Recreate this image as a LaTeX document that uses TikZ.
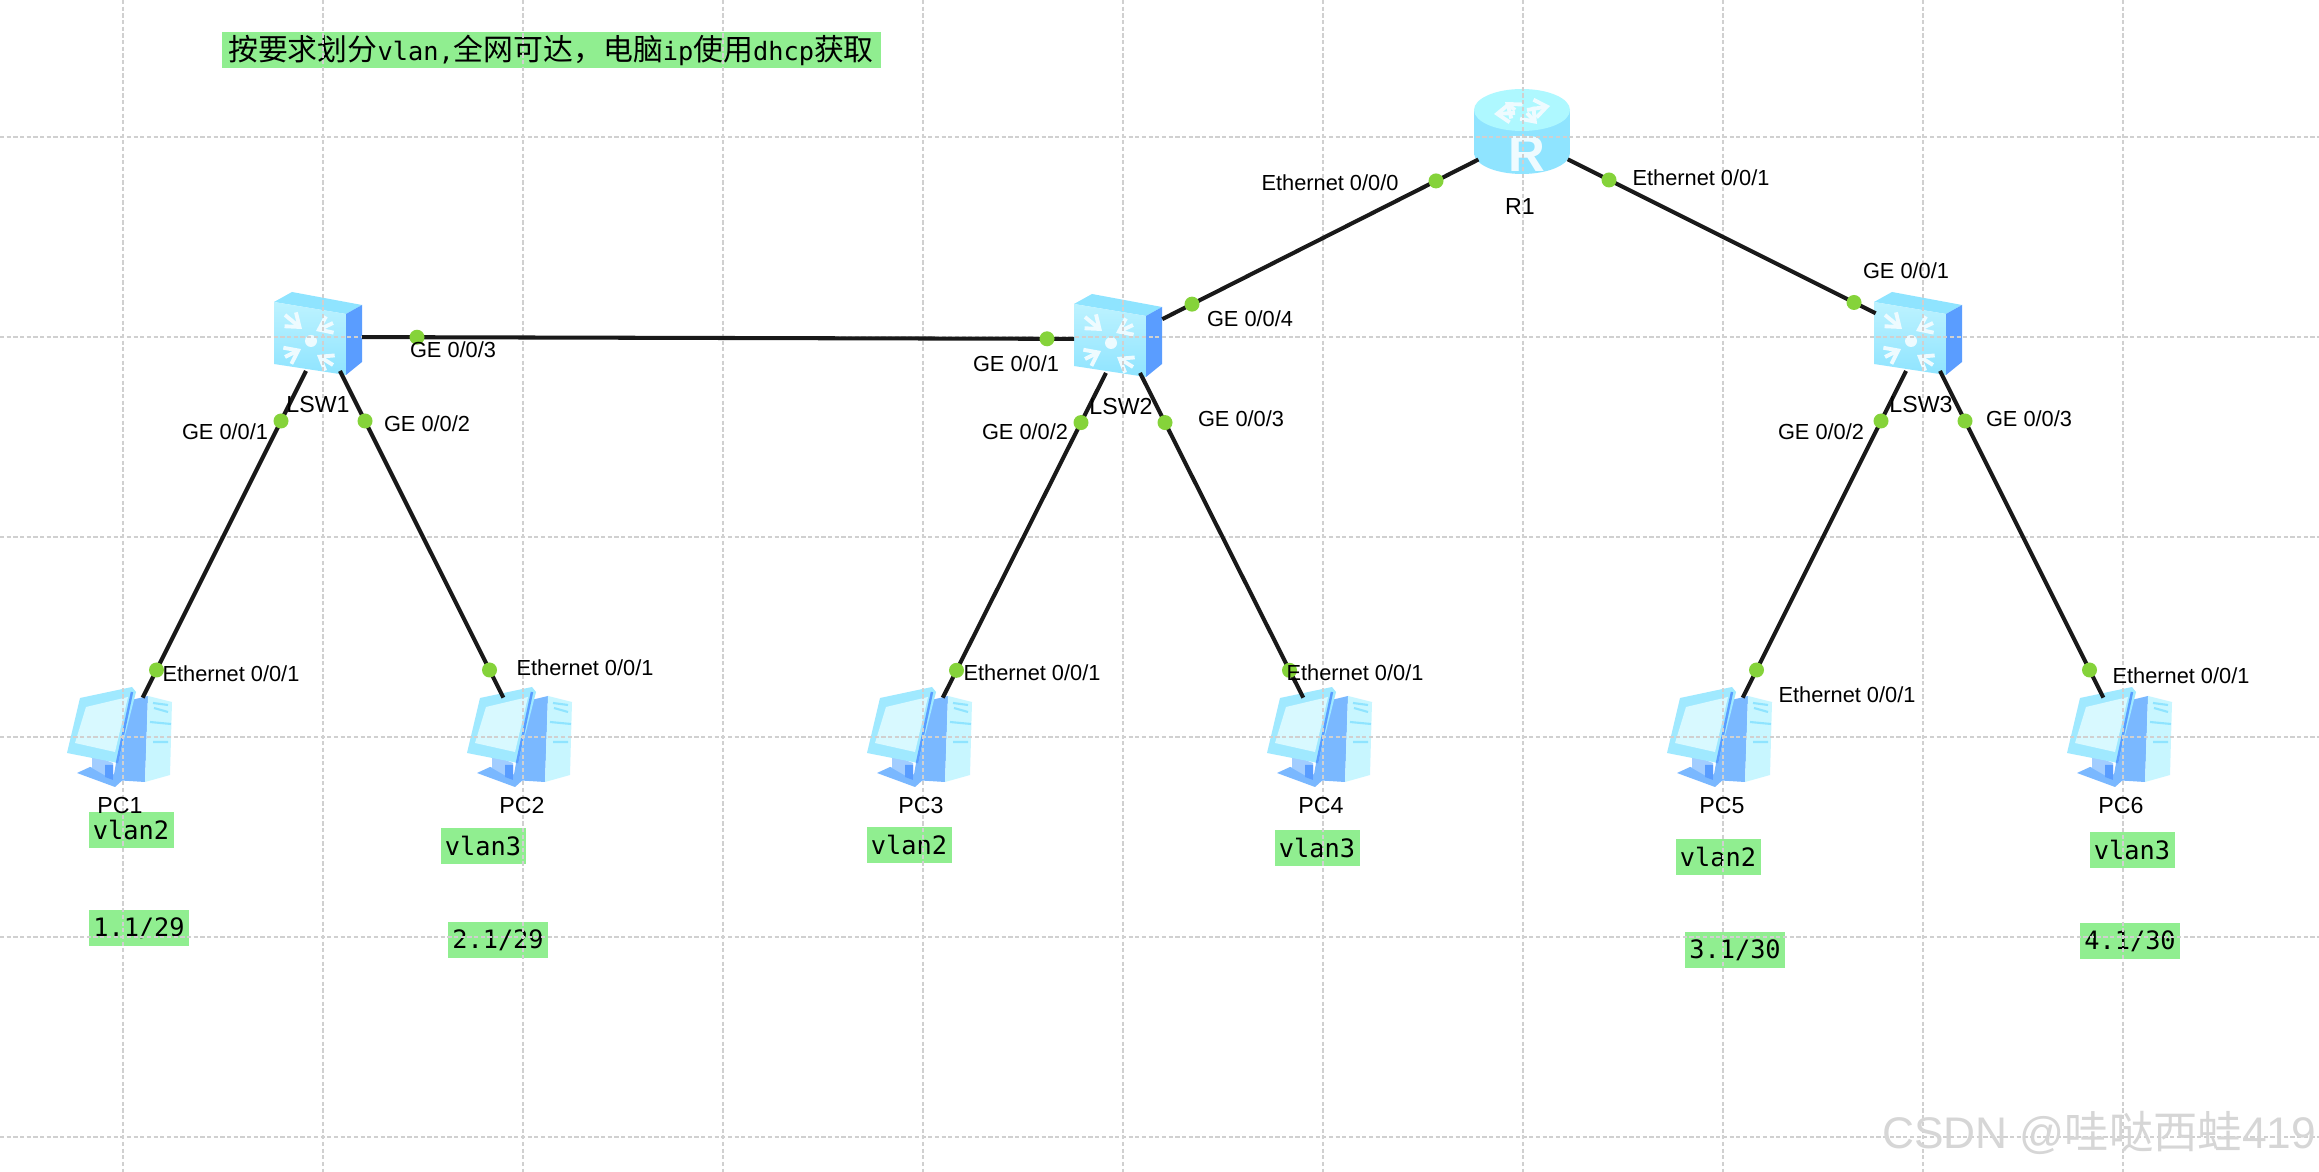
\documentclass[tikz,border=0pt]{standalone}
\usepackage{fontspec}
\setmainfont{Liberation Sans}
\newfontfamily\cjk{Noto Sans CJK SC}
\newfontfamily\monofam{DejaVu Sans Mono}
\usepackage{tikz}
\usetikzlibrary{arrows.meta}
\usepackage{xcolor}
\definecolor{notegreen}{HTML}{90EE90}
\definecolor{portgreen}{HTML}{85D33A}
\definecolor{gridgray}{HTML}{D0D0D0}
\definecolor{iconpale}{HTML}{C8F6FF}
\definecolor{iconsky}{HTML}{8FE4FF}
\definecolor{iconblue}{HTML}{5A9DFF}
\definecolor{iconmid}{HTML}{7AB8FF}
\definecolor{icontop}{HTML}{AEF8FF}
\tikzset{
  devnode/.style={inner sep=0pt,outer sep=0pt,minimum width=9mm,minimum height=9mm},
  link/.style={black!90,line width=1.15pt},
  pclink/.style={link,shorten <=3.8mm,shorten >=4.4mm},
  portdot/.style={circle,fill=portgreen,inner sep=0pt,minimum size=1.5mm},
  portlabel/.style={font=\fontsize{6.2}{7}\selectfont},
  devlabel/.style={font=\fontsize{6.6}{8}\selectfont},
  notebox/.style={fill=notegreen,inner sep=0pt,minimum height=3.6mm,font=\monofam\fontsize{7.2}{8}\selectfont},
  gridline/.style={gridgray,line width=0.4pt,dash pattern=on 1.2pt off 0.7pt},
  iconline/.style={white!85!iconsky,line width=1.1pt,-{Straight Barb[length=1.2mm,width=1.8mm]}},
  switchicon/.pic={
    \fill[iconsky] (-49,-35) -- (-31,-45) -- (39,-32) -- (23,-23) -- cycle;
    \shade[top color=iconpale!80!iconsky,bottom color=iconsky] (-49,-35) -- (23,-23) -- (23,38) -- (-49,27) -- cycle;
    \fill[iconblue] (23,-23) -- (39,-32) -- (39,25) -- (23,38) -- cycle;
    \draw[iconline] (-38,-22) -- (-21,-8);
    \draw[iconline] (10,-14) -- (-7,-6);
    \draw[iconline] (-38,20) -- (-22,12);
    \draw[iconline] (10,28) -- (-6,18);
    \fill[white!85!iconsky] (-12,4) circle (6);
  },
  routericon/.pic={
    \shade[left color=iconsky,middle color=iconmid!85!iconsky,right color=iconsky] (-49,-27) -- (-49,16) arc[x radius=48,y radius=21,start angle=180,end angle=0] -- (47,-27) -- cycle;
    \fill[icontop] (-1,-27) circle[x radius=48,y radius=21];
    \draw[iconline] (-8,-27) -- (-18,-35);
    \draw[iconline] (4,-27) -- (27,-31);
    \draw[iconline] (-8,-24) -- (-29,-23);
    \draw[iconline] (4,-24) -- (14,-13);
  },
  pcicon/.pic={
    \fill[iconmid] (4,-36) -- (25,-41) -- (22,45) -- (-10,43) -- cycle;
    \fill[iconpale] (25,-41) -- (49,-35) -- (47,38) -- (22,45) -- cycle;
    \draw[iconsky,line width=0.6pt] (30,-34) -- (45,-32) (31,-29) -- (45,-25) (27,-15) -- (48,-13) (30,5) -- (45,5);
    \fill[iconmid] (-46,36) -- (-33,30) -- (2,41) -- (-8,50) -- cycle;
    \fill[iconmid!70!white] (-31,18) -- (-10,26) -- (-10,43) -- (-31,31) -- cycle;
    \fill[iconblue] (-18,28) -- (-10,28) -- (-10,43) -- (-18,40) -- cycle;
    \fill[iconsky!70!iconpale] (-43,-39) -- (9,-50) -- (13,-45) -- (-5,26) -- (-56,16) -- cycle;
    \fill[iconpale!70!white] (-37,-30) -- (5,-40) -- (-8,15) -- (-48,6) -- cycle;
    \draw[iconblue,line width=0.7pt] (9,-45) -- (-6,26);
  },
}
\begin{document}
\begin{tikzpicture}[x=0.1mm,y=-0.1mm,line cap=butt]
\useasboundingbox[fill=white] (0,0) rectangle (2319,1172);
% devices
\node[devnode] (R1) at (1523,137) {};
\node[devnode] (LSW1) at (323,337) {};
\node[devnode] (LSW2) at (1123,339) {};
\node[devnode] (LSW3) at (1923,337) {};
\node[devnode] (PC1) at (123,737) {};
\node[devnode] (PC2) at (523,737) {};
\node[devnode] (PC3) at (923,737) {};
\node[devnode] (PC4) at (1323,737) {};
\node[devnode] (PC5) at (1723,737) {};
\node[devnode] (PC6) at (2123,737) {};
% icons
\pic at (R1) {routericon};
\node[font=\bfseries\fontsize{14.5}{16}\selectfont,text=white!85!iconsky] (R1mark) at (1527,154) {R};
\pic at (LSW1) {switchicon};
\pic at (LSW2) {switchicon};
\pic at (LSW3) {switchicon};
\foreach \pcname in {PC1,PC2,PC3,PC4,PC5,PC6}
  \pic at (\pcname) {pcicon};
% notes
\node[notebox,minimum width=65.9mm] (task) at (551,50) {{\cjk\fontsize{8.5}{9}\selectfont 按要求划分}vlan,{\cjk\fontsize{8.5}{9}\selectfont 全网可达，电脑}ip{\cjk\fontsize{8.5}{9}\selectfont 使用}dhcp{\cjk\fontsize{8.5}{9}\selectfont 获取}};
\node[notebox,minimum width=8.5mm] (vlanA) at (131,830) {vlan2};
\node[notebox,minimum width=8.5mm] (vlanB) at (483,846) {vlan3};
\node[notebox,minimum width=8.5mm] (vlanC) at (909,845) {vlan2};
\node[notebox,minimum width=8.5mm] (vlanD) at (1317,848) {vlan3};
\node[notebox,minimum width=8.5mm] (vlanE) at (1718,857) {vlan2};
\node[notebox,minimum width=8.5mm] (vlanF) at (2132,850) {vlan3};
\node[notebox,minimum width=10mm] (netA) at (139,928) {1.1/29};
\node[notebox,minimum width=10mm] (netB) at (498,940) {2.1/29};
\node[notebox,minimum width=10mm] (netC) at (1735,950) {3.1/30};
\node[notebox,minimum width=10mm] (netD) at (2130,941) {4.1/30};
% grid lies over icons and notes
\foreach \gx in {123,323,...,2123}
  \draw[gridline] (\gx,0) -- (\gx,1172);
\foreach \gy in {137,337,...,1137}
  \draw[gridline] (0,\gy) -- (2319,\gy);
% links
\draw[link,shorten <=5mm,shorten >=4.4mm] (R1.center) -- node[portdot,pos=.2175] (R1a) {} node[portdot,pos=.8275] (LSW2d) {} (LSW2.center);
\draw[link,shorten <=5mm,shorten >=5.3mm] (R1.center) -- node[portdot,pos=.215] (R1b) {} node[portdot,pos=.8275] (LSW3a) {} (LSW3.center);
\draw[link,shorten <=3.9mm,shorten >=4.9mm] (LSW1.center) -- node[portdot,pos=.1175] (LSW1c) {} node[portdot,pos=.905] (LSW2a) {} (LSW2.center);
\draw[pclink] (LSW1.center) -- node[portdot,pos=.21] (LSW1a) {} node[portdot,pos=.8325] (PC1a) {} (PC1.center);
\draw[pclink] (LSW1.center) -- node[portdot,pos=.21] (LSW1b) {} node[portdot,pos=.8325] (PC2a) {} (PC2.center);
\draw[pclink] (LSW2.center) -- node[portdot,pos=.21] (LSW2b) {} node[portdot,pos=.8325] (PC3a) {} (PC3.center);
\draw[pclink] (LSW2.center) -- node[portdot,pos=.21] (LSW2c) {} node[portdot,pos=.8325] (PC4a) {} (PC4.center);
\draw[pclink] (LSW3.center) -- node[portdot,pos=.21] (LSW3b) {} node[portdot,pos=.8325] (PC5a) {} (PC5.center);
\draw[pclink] (LSW3.center) -- node[portdot,pos=.21] (LSW3c) {} node[portdot,pos=.8325] (PC6a) {} (PC6.center);
% device names
\node[devlabel] (R1name) at (1520,207) {R1};
\node[devlabel] (LSW1name) at (318,405) {LSW1};
\node[devlabel] (LSW2name) at (1121,407) {LSW2};
\node[devlabel] (LSW3name) at (1921,405) {LSW3};
\node[devlabel] (PC1name) at (120,806) {PC1};
\node[devlabel] (PC2name) at (522,806) {PC2};
\node[devlabel] (PC3name) at (921,806) {PC3};
\node[devlabel] (PC4name) at (1321,806) {PC4};
\node[devlabel] (PC5name) at (1722,806) {PC5};
\node[devlabel] (PC6name) at (2121,806) {PC6};
% port names
\node[portlabel] (R1aname) at (1330,183) {Ethernet 0/0/0};
\node[portlabel] (R1bname) at (1701,178) {Ethernet 0/0/1};
\node[portlabel] (LSW1aname) at (225,432) {GE 0/0/1};
\node[portlabel] (LSW1bname) at (427,424) {GE 0/0/2};
\node[portlabel] (LSW1cname) at (453,350) {GE 0/0/3};
\node[portlabel] (LSW2aname) at (1016,364) {GE 0/0/1};
\node[portlabel] (LSW2bname) at (1025,432) {GE 0/0/2};
\node[portlabel] (LSW2cname) at (1241,419) {GE 0/0/3};
\node[portlabel] (LSW2dname) at (1250,319) {GE 0/0/4};
\node[portlabel] (LSW3aname) at (1906,271) {GE 0/0/1};
\node[portlabel] (LSW3bname) at (1821,432) {GE 0/0/2};
\node[portlabel] (LSW3cname) at (2029,419) {GE 0/0/3};
\node[portlabel] (PC1aname) at (231,674) {Ethernet 0/0/1};
\node[portlabel] (PC2aname) at (585,668) {Ethernet 0/0/1};
\node[portlabel] (PC3aname) at (1032,673) {Ethernet 0/0/1};
\node[portlabel] (PC4aname) at (1355,673) {Ethernet 0/0/1};
\node[portlabel] (PC5aname) at (1847,695) {Ethernet 0/0/1};
\node[portlabel] (PC6aname) at (2181,676) {Ethernet 0/0/1};
\node[text=gray!32,font=\fontsize{12.6}{14}\selectfont] (mark) at (2099,1133) {CSDN @{\cjk 哇哒西蛙}419};
\end{tikzpicture}
\end{document}
